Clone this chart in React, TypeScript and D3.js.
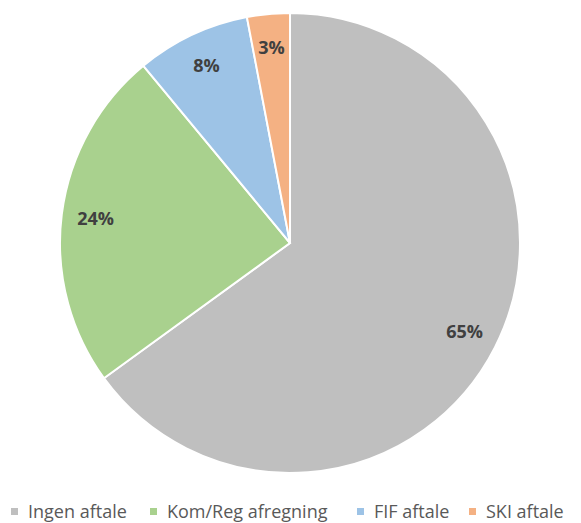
import React, { useEffect, useRef } from "react";
import * as d3 from "d3";

const categories = ["Ingen aftale", "Kom/Reg afregning", "FIF aftale", "SKI aftale"];
const values = [65, 24, 8, 3];
const colors = ["#bfbfbf", "#a9d18e", "#9dc3e6", "#f4b183"];
// legend text start x, as laid out in the picture
const legendX = [28, 167, 374, 486];

const W = 581;
const H = 523;

const App = () => {
  const ref = useRef<SVGSVGElement>(null);

  useEffect(() => {
    if (!ref.current) return;
    const svg = d3.select(ref.current);
    svg.selectAll("*").remove();

    const cx = 290;
    const cy = 243;
    const r = 230;

    const pie = d3.pie<number>().sort(null).value((d) => d);
    const arcs = pie(values);
    const arc = d3.arc<d3.PieArcDatum<number>>().innerRadius(0).outerRadius(r);
    const labelArc = d3.arc<d3.PieArcDatum<number>>().innerRadius(196).outerRadius(196);

    const g = svg.append("g").attr("transform", `translate(${cx},${cy})`);
    g.selectAll("path")
      .data(arcs)
      .join("path")
      .attr("d", arc)
      .attr("fill", (d, i) => colors[i])
      .attr("stroke", "#fff")
      .attr("stroke-width", 2);

    g.selectAll("text")
      .data(arcs)
      .join("text")
      .attr("transform", (d) => `translate(${labelArc.centroid(d)})`)
      .attr("text-anchor", "middle")
      .attr("dy", "0.35em")
      .attr("font-family", "'Open Sans', sans-serif")
      .attr("font-weight", "bold")
      .attr("font-size", 18)
      .attr("fill", "#404040")
      .text((d) => `${d.data}%`);

    const legend = svg.append("g");
    categories.forEach((c, i) => {
      legend
        .append("rect")
        .attr("x", legendX[i] - 17)
        .attr("y", 508)
        .attr("width", 7)
        .attr("height", 7)
        .attr("fill", colors[i]);
      legend
        .append("text")
        .attr("x", legendX[i])
        .attr("y", 518)
        .attr("font-family", "'Open Sans', sans-serif")
        .attr("font-size", 18)
        .attr("fill", "#595959")
        .text(c);
    });
  }, []);

  return (
    <div style={{ position: "absolute", left: 0, top: 0 }}>
      <svg ref={ref} width={W} height={H} style={{ display: "block", background: "#fff" }} />
    </div>
  );
};

export default App;
